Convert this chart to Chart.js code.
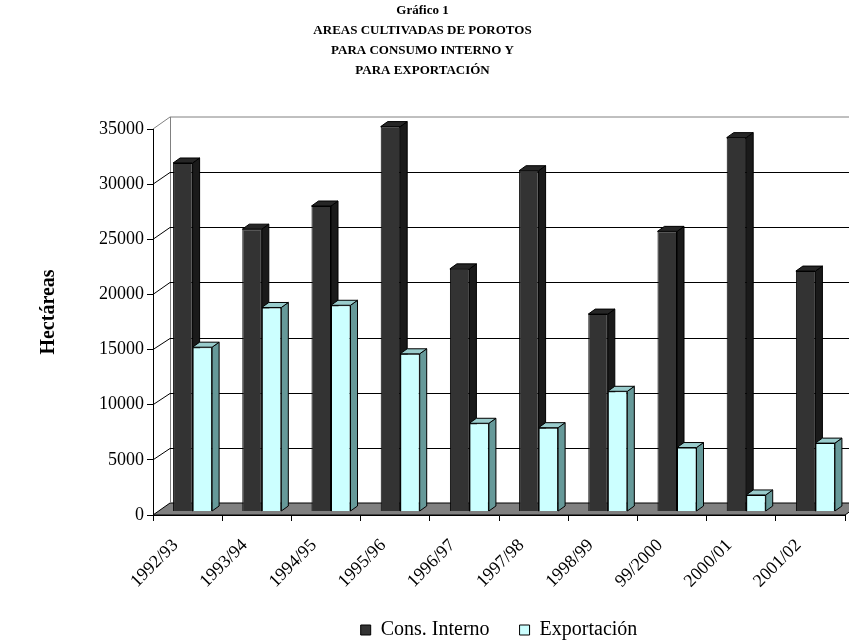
<!DOCTYPE html>
<html>
<head>
<meta charset="utf-8">
<script src="https://cdn.jsdelivr.net/npm/chart.js@4.4.0/dist/chart.umd.min.js"></script>
<style>
  html, body { margin: 0; padding: 0; background: #fff; }
  #contenedor { width: 849px; height: 640px; }
</style>
</head>
<body>
<div id="contenedor"><canvas id="grafico"></canvas></div>
<script>
// Datos del gráfico
const temporadas = ['1992/93', '1993/94', '1994/95', '1995/96', '1996/97',
                    '1997/98', '1998/99', '99/2000', '2000/01', '2001/02'];
const consInterno = [31600, 25600, 27700, 34900, 22000, 30900, 17900, 25400, 33900, 21800];
const exportacion = [14900, 18500, 18700, 14300, 8000, 7600, 10900, 5800, 1500, 6200];
const ticksY = [0, 5000, 10000, 15000, 20000, 25000, 30000, 35000];

const fuente = "'Liberation Serif', 'Times New Roman', serif";

// Perspectiva: pared del fondo, plano de las barras y profundidad de cada barra
const FONDO_X = 17, FONDO_Y = 12;
const BARRA_X = 5, BARRA_Y = 3.5;
const CARA_X = 7, CARA_Y = 5;

const caras = [
  { lateral: '#1a1a1a', superior: '#262626' },
  { lateral: '#669999', superior: '#99cccc' }
];

// Plugin que dibuja paredes, suelo y barras con volumen
const efecto3d = {
  id: 'efecto3d',
  afterLayout(chart) {
    if (chart.legend) {
      chart.legend.top += 10;
      chart.legend.bottom += 10;
    }
    // dejar espacio a las etiquetas giradas (si no, se recortan)
    const x = chart.scales.x;
    x.bottom += 30;
    x.height += 30;
  },
  beforeDraw(chart) {
    const ctx = chart.ctx;
    const a = chart.chartArea;
    const y = chart.scales.y;
    ctx.save();
    // suelo
    ctx.fillStyle = '#808080';
    ctx.beginPath();
    ctx.moveTo(a.left, a.bottom);
    ctx.lineTo(a.left + FONDO_X, a.bottom - FONDO_Y);
    ctx.lineTo(a.right + FONDO_X, a.bottom - FONDO_Y);
    ctx.lineTo(a.right, a.bottom);
    ctx.closePath();
    ctx.fill();
    ctx.strokeStyle = '#000';
    ctx.lineWidth = 1;
    ctx.stroke();
    // bordes de la pared
    ctx.strokeStyle = '#808080';
    ctx.beginPath();
    ctx.moveTo(a.left, a.top);
    ctx.lineTo(a.left + FONDO_X, a.top - FONDO_Y);
    ctx.lineTo(a.right + FONDO_X, a.top - FONDO_Y);
    ctx.moveTo(a.left + FONDO_X + 0.5, a.top - FONDO_Y);
    ctx.lineTo(a.left + FONDO_X + 0.5, a.bottom - FONDO_Y);
    ctx.stroke();
    // lineas de division
    ctx.strokeStyle = '#000';
    y.ticks.forEach(function(t) {
      if (t.value <= 0 || t.value >= y.max) return;
      const py = y.getPixelForValue(t.value);
      const pf = Math.round(py - FONDO_Y) + 0.5;
      ctx.beginPath();
      ctx.moveTo(a.left, py);
      ctx.lineTo(a.left + FONDO_X, pf);
      ctx.lineTo(a.right + FONDO_X, pf);
      ctx.stroke();
    });
    ctx.restore();
  },
  // las barras se dibujan abajo, en orden: primero las oscuras, luego las claras
  beforeDatasetDraw() {
    return false;
  },
  afterDatasetsDraw(chart) {
    const ctx = chart.ctx;
    ctx.save();
    ctx.translate(BARRA_X, -BARRA_Y);
    chart.data.datasets.forEach(function(ds, i) {
      const c = caras[i];
      chart.getDatasetMeta(i).data.forEach(function(barra) {
        barra.draw(ctx);
        const p = barra.getProps(['x', 'y', 'base', 'width'], true);
        const izq = p.x - p.width / 2, der = p.x + p.width / 2;
        ctx.strokeStyle = '#000';
        ctx.lineWidth = 1;
        // cara lateral
        ctx.fillStyle = c.lateral;
        ctx.beginPath();
        ctx.moveTo(der, p.y);
        ctx.lineTo(der + CARA_X, p.y - CARA_Y);
        ctx.lineTo(der + CARA_X, p.base - CARA_Y);
        ctx.lineTo(der, p.base);
        ctx.closePath();
        ctx.fill();
        ctx.stroke();
        // cara superior
        ctx.fillStyle = c.superior;
        ctx.beginPath();
        ctx.moveTo(izq, p.y);
        ctx.lineTo(izq + CARA_X, p.y - CARA_Y);
        ctx.lineTo(der + CARA_X, p.y - CARA_Y);
        ctx.lineTo(der, p.y);
        ctx.closePath();
        ctx.fill();
        ctx.stroke();
      });
    });
    ctx.restore();
  }
};

new Chart(document.getElementById('grafico'), {
  type: 'bar',
  data: {
    labels: temporadas,
    datasets: [{
      label: 'Cons. Interno',
      data: consInterno,
      backgroundColor: '#333333',
      borderColor: '#000',
      borderWidth: 1
    }, {
      label: 'Exportación',
      data: exportacion,
      backgroundColor: '#ccffff',
      borderColor: '#000',
      borderWidth: 1
    }]
  },
  options: {
    responsive: true,
    maintainAspectRatio: false,
    animation: false,
    devicePixelRatio: 1,
    categoryPercentage: 0.564,
    barPercentage: 1.0,
    layout: { padding: { left: 0, right: 4, top: 0, bottom: 0 } },
    plugins: {
      title: {
        display: true,
        text: ['Gráfico 1', 'AREAS CULTIVADAS DE POROTOS', 'PARA CONSUMO INTERNO Y', 'PARA EXPORTACIÓN'],
        color: '#000',
        font: { family: fuente, size: 13, weight: 'bold', lineHeight: 20 / 13 },
        padding: { top: 1, bottom: 48 }
      },
      legend: {
        position: 'bottom',
        fullSize: false,
        labels: {
          color: '#000',
          font: { family: fuente, size: 20 },
          boxWidth: 10,
          boxHeight: 10,
          padding: 30
        }
      },
      tooltip: { enabled: false }
    },
    scales: {
      x: {
        grid: { drawOnChartArea: false, drawTicks: true, tickLength: 6, color: '#000', offset: true },
        border: { color: '#000' },
        ticks: {
          color: '#000',
          font: { family: fuente, size: 18 },
          minRotation: 45,
          maxRotation: 45,
          autoSkip: false,
          padding: 14,
          labelOffset: -12
        },
        afterFit: function(s) { s.height = 65; }
      },
      y: {
        min: ticksY[0],
        max: ticksY[ticksY.length - 1],
        afterBuildTicks: function(s) {
          s.ticks = ticksY.map(function(v) { return { value: v }; });
        },
        ticks: {
          color: '#000',
          font: { family: fuente, size: 18 },
          padding: 3,
          callback: function(v) { return String(v); }
        },
        grid: { drawOnChartArea: false, tickLength: 6, color: '#000' },
        border: { color: '#000' },
        title: {
          display: true,
          text: '    Hectáreas',
          color: '#000',
          font: { family: fuente, size: 20, weight: 'bold' },
          padding: { top: 37, bottom: 0 }
        },
        afterFit: function(s) { s.width = 153; }
      }
    }
  },
  plugins: [efecto3d]
});
</script>
</body>
</html>
